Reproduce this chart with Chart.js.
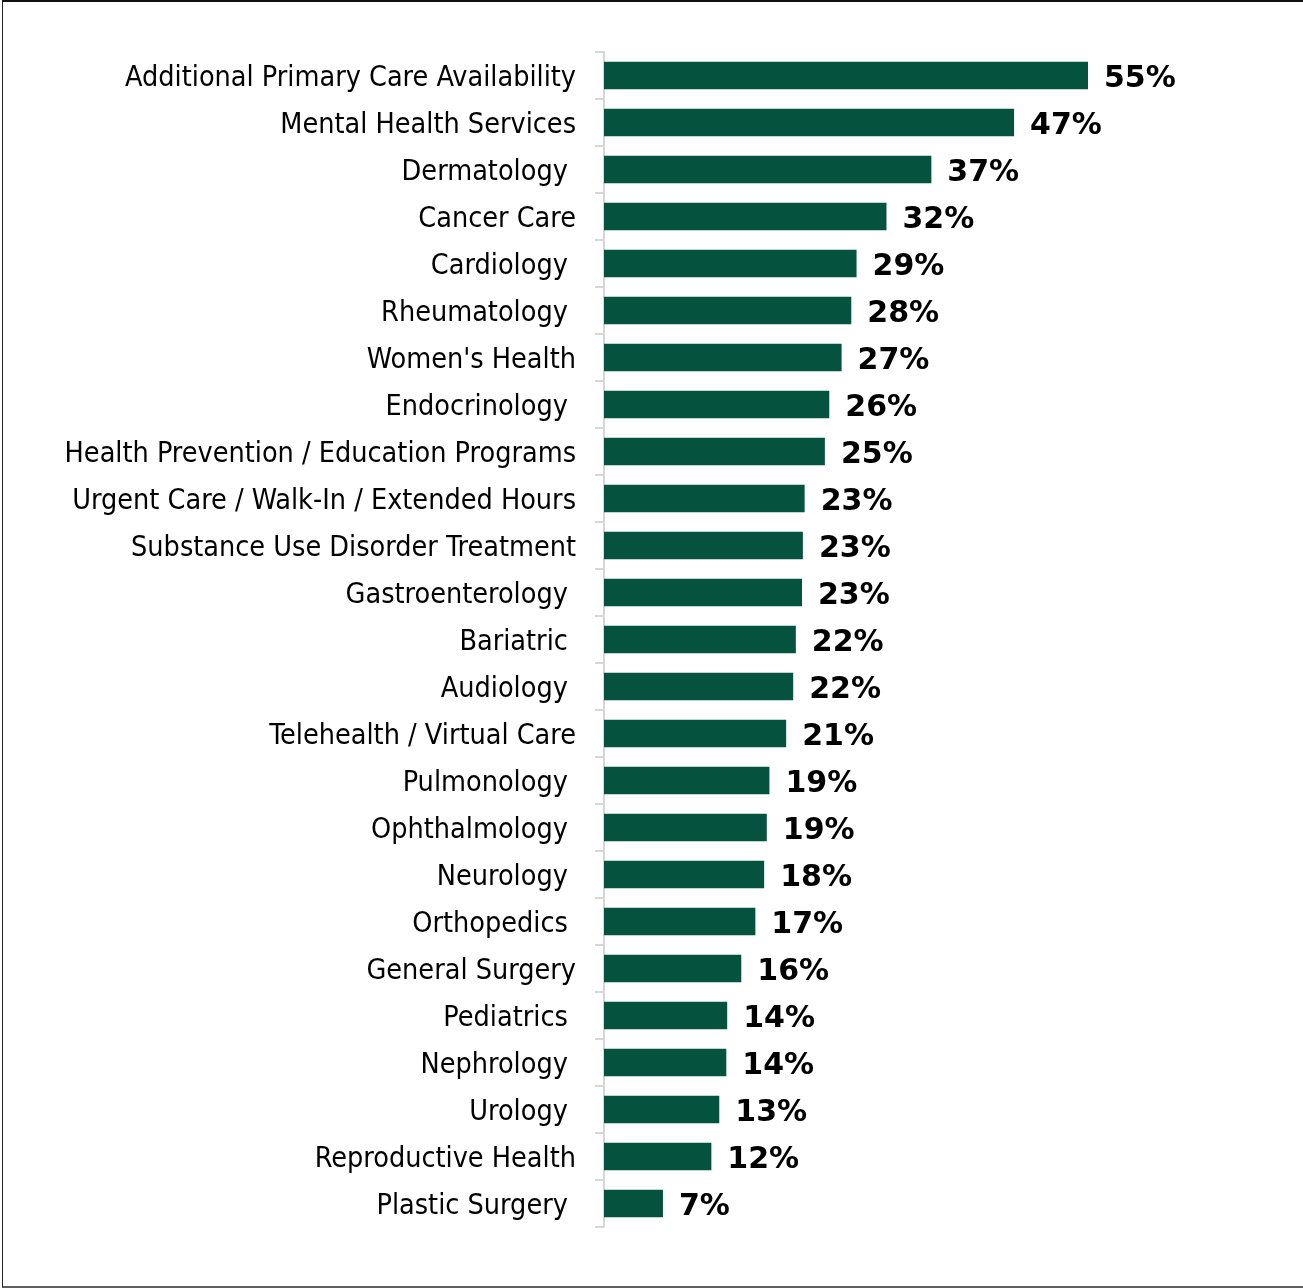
<!DOCTYPE html>
<html>
<head>
<meta charset="utf-8">
<script src="https://cdn.jsdelivr.net/npm/chart.js@4/dist/chart.umd.min.js"></script>
<style>
    html, body { margin: 0; padding: 0; background: #fff; }
    .frame {
        position: absolute; left: 2px; top: 0; width: 1310px; height: 1284px;
        border-top: 2px solid #111; border-left: 1px solid #222; border-bottom: 2px solid #5f5f5f;
    }
    .wrap { position: absolute; left: 0; top: 0; width: 1303px; height: 1288px; }
</style>
</head>
<body>
<div class="frame"></div>
<div class="wrap"><canvas id="servicesChart" width="1303" height="1288"></canvas></div>
<script>
// ==================== DATA ====================
// trailing spaces are kept as in the source labels
const categories = [
    'Additional Primary Care Availability',
    'Mental Health Services',
    'Dermatology ',
    'Cancer Care',
    'Cardiology ',
    'Rheumatology ',
    "Women's Health",
    'Endocrinology ',
    'Health Prevention / Education Programs',
    'Urgent Care / Walk-In / Extended Hours',
    'Substance Use Disorder Treatment',
    'Gastroenterology ',
    'Bariatric ',
    'Audiology ',
    'Telehealth / Virtual Care',
    'Pulmonology ',
    'Ophthalmology ',
    'Neurology ',
    'Orthopedics ',
    'General Surgery',
    'Pediatrics ',
    'Nephrology ',
    'Urology ',
    'Reproductive Health',
    'Plastic Surgery '
];
const shares = [55, 46.6, 37.2, 32.1, 28.7, 28.1, 27.0, 25.6, 25.1, 22.8, 22.6, 22.5, 21.8, 21.5, 20.7,
    18.8, 18.5, 18.2, 17.2, 15.6, 14.0, 13.9, 13.1, 12.2, 6.7];

const barColor = '#05523f';
const labelFont = "'DejaVu Sans Condensed', 'DejaVu Sans', sans-serif";

// ==================== VALUE LABELS ====================
const valueLabels = {
    id: 'valueLabels',
    afterDatasetsDraw(chart) {
        const ctx = chart.ctx;
        const meta = chart.getDatasetMeta(0);
        ctx.save();
        ctx.font = "bold 30px 'DejaVu Sans', sans-serif";
        ctx.fillStyle = '#000';
        ctx.textAlign = 'left';
        ctx.textBaseline = 'middle';
        meta.data.forEach((bar, i) => {
            ctx.fillText(Math.round(shares[i]) + '%', bar.x + 16, bar.y + 4);
        });
        ctx.restore();
    }
};

// ==================== CHART ====================
new Chart(document.getElementById('servicesChart'), {
    type: 'bar',
    data: {
        labels: categories,
        datasets: [{
            data: shares,
            backgroundColor: barColor,
            borderWidth: 0,
            barPercentage: 0.58,
            categoryPercentage: 1
        }]
    },
    options: {
        indexAxis: 'y',
        responsive: false,
        animation: false,
        layout: { padding: { top: 52, bottom: 61, left: 0, right: 83 } },
        plugins: { legend: { display: false }, tooltip: { enabled: false } },
        scales: {
            x: { display: false, min: 0, max: 70 },
            y: {
                afterFit: (scale) => { scale.width = 604; },
                border: { display: true, color: '#d6d6d6', width: 2 },
                grid: { drawOnChartArea: false, offset: true, color: '#d6d6d6', lineWidth: 2, tickLength: 9 },
                ticks: { color: '#000', padding: 19, labelOffset: 3, font: { size: 28.5, family: labelFont }, autoSkip: false }
            }
        }
    },
    plugins: [valueLabels]
});
</script>
</body>
</html>
